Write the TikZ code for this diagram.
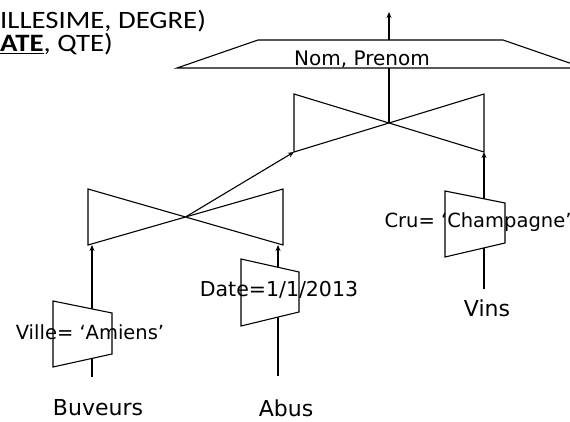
\documentclass[tikz,border=0pt]{standalone}
\usepackage{fontspec}
\newfontfamily\labelfont{DejaVu Sans}
\newfontfamily\headfont{Carlito}[FakeStretch=1.15]
\usepackage{tikz}
\usetikzlibrary{arrows.meta}

\begin{document}
\begin{tikzpicture}[x=1pt, y=-1pt, >={Stealth[length=6pt, width=5pt]},
  cond/.style={font=\labelfont\fontsize{19.5}{22}\selectfont, inner sep=0pt},
  rel/.style={font=\labelfont\fontsize{22}{26}\selectfont, inner sep=0pt},
  head/.style={font=\headfont\fontsize{25}{30}\selectfont, inner sep=0pt, anchor=base west},
  op/.style={draw, line width=1.1pt, line join=miter},
  flow/.style={->, line width=1.1pt}]
  \useasboundingbox (0,0) rectangle (570,422);
  \clip (0,0) rectangle (570,422);

  % schema (cut at the left border)
  \node[head, text depth=0pt] (schemaVins) at (0,28.5) {ILLESIME, DEGRE)};
  \node[head, text height=15pt] (schemaAbus) at (0,52) {\underline{\textbf{ATE}}, QTE)};

  % relations
  \node[rel] (buveurs) at (98,408) {Buveurs};
  \node[rel] (abus) at (286,408) {Abus};
  \node[rel] (vins) at (487,308) {Vins};

  % selections
  \draw[op] (53,301) -- (112,313) -- (112,354) -- (53,367) -- cycle;
  \coordinate (selBuvTop) at (92,309);
  \coordinate (selBuvBot) at (92,358);
  \draw[op] (241,259) -- (299,272) -- (299,312) -- (241,326) -- cycle;
  \coordinate (selAbusTop) at (278,267);
  \coordinate (selAbusBot) at (278,317);
  \draw[op] (445,191) -- (505,203) -- (505,243) -- (445,257) -- cycle;
  \coordinate (selVinsTop) at (484,199);
  \coordinate (selVinsBot) at (484,248);
  \node[cond] (condVille) at (90,332) {Ville= ‘Amiens’};
  \node[cond, font=\labelfont\fontsize{20.5}{24}\selectfont] (condDate) at (279,290) {Date=1/1/2013};
  \node[cond] (condCru) at (478,222) {Cru= ‘Champagne’};

  % joins
  \draw[op] (88,189) -- (283,245) -- (283,189) -- (88,245) -- cycle;
  \coordinate (joinA) at (185.5,217);
  \coordinate (joinAin1) at (92,245);
  \coordinate (joinAin2) at (278,245);
  \draw[op] (294,94) -- (484,152) -- (484,94) -- (294,152) -- cycle;
  \coordinate (joinB) at (389,123);
  \coordinate (joinBin1) at (294,152);
  \coordinate (joinBin2) at (484,152);

  % projection
  \draw[op] (177,68) -- (258,40) -- (503,40) -- (584,68) -- cycle;
  \coordinate (projBot) at (389,68);
  \coordinate (projTop) at (389,40);
  \coordinate (result) at (389,12);
  \node[cond, anchor=base, font=\labelfont\fontsize{20}{24}\selectfont] (projAttr) at (362,66) {Nom, Prenom};

  \draw[line width=1.1pt] (buveurs.north) ++(-6,-23) coordinate (buvOut) -- (selBuvBot);
  \draw[line width=1.1pt] (abus.north) ++(-8,-23) coordinate (abusOut) -- (selAbusBot);
  \draw[line width=1.1pt] (vins.north) ++(-3,-10) coordinate (vinsOut) -- (selVinsBot);
  \draw[flow] (selBuvTop) -- (joinAin1);
  \draw[flow] (selAbusTop) -- (joinAin2);
  \draw[flow] (joinA) -- (joinBin1);
  \draw[flow] (selVinsTop) -- (joinBin2);
  \draw[line width=1.1pt] (joinB) -- (projBot);
  \draw[flow] (projTop) -- (result);
\end{tikzpicture}
\end{document}
